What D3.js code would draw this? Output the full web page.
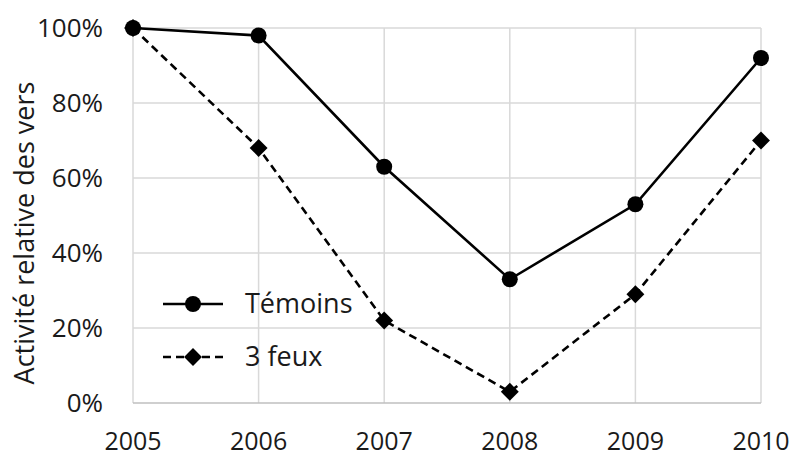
<!DOCTYPE html>
<html><head><meta charset="utf-8">
<script src="https://cdn.jsdelivr.net/npm/d3@7"></script>
<style>body{margin:0;background:#fff}svg{display:block}text{font-family:"Open Sans","Noto Sans",sans-serif;fill:#1a1a1a}</style>
</head><body><svg id="c" width="794" height="457"></svg>
<script>
const years = [2005, 2006, 2007, 2008, 2009, 2010];
const temoins = [100, 98, 63, 33, 53, 92];
const troisFeux = [100, 68, 22, 3, 29, 70];
const yTicks = [0, 20, 40, 60, 80, 100];
const seriesNames = ["Témoins", "3 feux"];

const svg = d3.select("#c");
const x = d3.scalePoint().domain(years).range([133, 761]);
const y = d3.scaleLinear().domain([0, 100]).range([403, 28]);

// grid
svg.append("g").selectAll("line").data(yTicks.filter(d=>d>0)).join("line")
  .attr("x1", 133).attr("x2", 761).attr("y1", d=>y(d)).attr("y2", d=>y(d))
  .attr("stroke", "#d9d9d9").attr("stroke-width", 1.5);
svg.append("g").selectAll("line").data(years).join("line")
  .attr("x1", d=>x(d)).attr("x2", d=>x(d)).attr("y1", y(100)).attr("y2", y(0))
  .attr("stroke", "#d9d9d9").attr("stroke-width", 1.5);
svg.append("line").attr("x1", 133).attr("x2", 761).attr("y1", y(0)).attr("y2", y(0))
  .attr("stroke", "#bfbfbf").attr("stroke-width", 1.5);

// axis labels
svg.append("g").selectAll("text").data(yTicks).join("text")
  .attr("x", 103).attr("y", d=>y(d)).attr("dy", "0.35em").attr("text-anchor", "end")
  .attr("font-size", 26).text(d=>d+"%");
svg.append("g").selectAll("text").data(years).join("text")
  .attr("x", d=>x(d)).attr("y", 450).attr("text-anchor", "middle")
  .attr("font-size", 25).text(d=>d);
svg.append("text").attr("transform", "translate(25,233) rotate(-90)")
  .attr("text-anchor", "middle").attr("dy", "0.35em").attr("font-size", 27)
  .text("Activité relative des vers");

const line = d3.line().x((d,i)=>x(years[i])).y(d=>y(d));
const dia = d3.symbol().type(d3.symbolSquare).size(160);

// 3 feux
svg.append("path").datum(troisFeux).attr("d", line).attr("fill", "none")
  .attr("stroke", "#000").attr("stroke-width", 2.6).attr("stroke-dasharray", "8,5");
svg.append("g").selectAll("path").data(troisFeux).join("path")
  .attr("d", dia).attr("fill", "#000")
  .attr("transform", (d,i)=>`translate(${x(years[i])},${y(d)}) rotate(45)`);

// Témoins
svg.append("path").datum(temoins).attr("d", line).attr("fill", "none")
  .attr("stroke", "#000").attr("stroke-width", 2.6);
svg.append("g").selectAll("circle").data(temoins).join("circle")
  .attr("cx", (d,i)=>x(years[i])).attr("cy", d=>y(d)).attr("r", 8).attr("fill", "#000");

// legend
const lg = svg.append("g");
const ly = [304, 357];
lg.append("line").attr("x1", 163).attr("x2", 223).attr("y1", ly[0]).attr("y2", ly[0])
  .attr("stroke", "#000").attr("stroke-width", 2.6);
lg.append("circle").attr("cx", 193).attr("cy", ly[0]).attr("r", 8).attr("fill", "#000");
lg.append("line").attr("x1", 163).attr("x2", 225).attr("y1", ly[1]).attr("y2", ly[1])
  .attr("stroke", "#000").attr("stroke-width", 2.6).attr("stroke-dasharray", "8,5");
lg.append("path").attr("d", dia())
  .attr("transform", `translate(193,${ly[1]}) rotate(45)`).attr("fill", "#000");
lg.selectAll("text").data(seriesNames).join("text")
  .attr("x", 245).attr("y", (d,i)=>ly[i]).attr("dy", "0.35em").attr("font-size", 27).text(d=>d);
</script></body></html>
